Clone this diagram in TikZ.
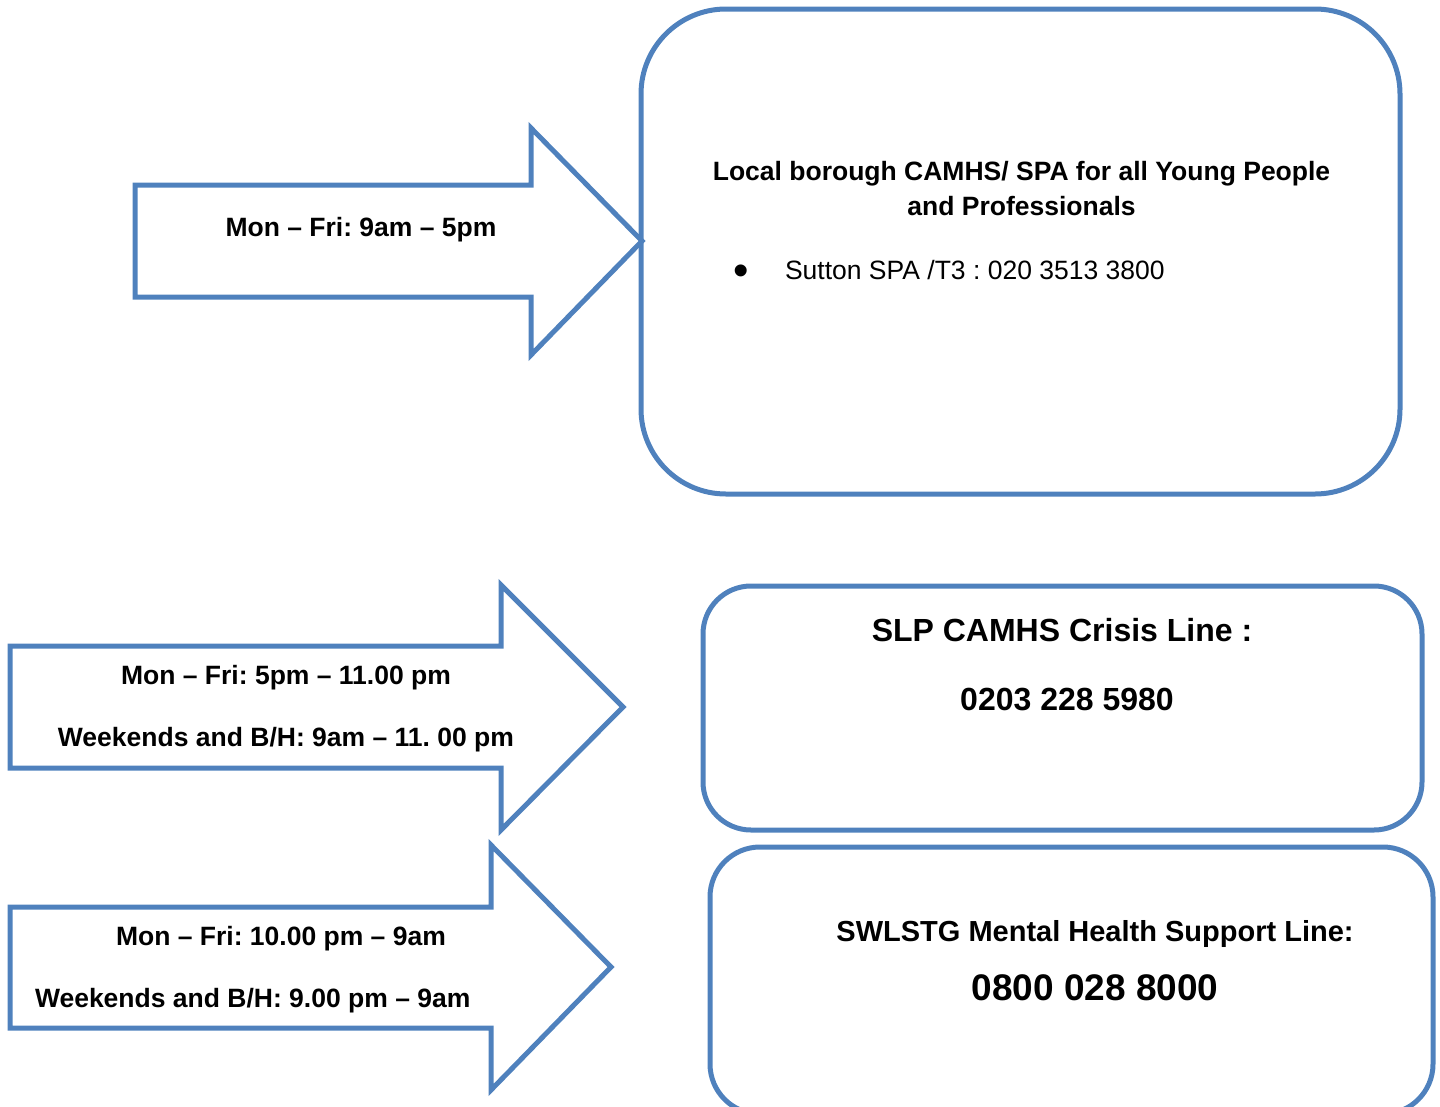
\documentclass[tikz,border=0pt]{standalone}
\usepackage{fontspec}
\setmainfont{Liberation Sans}
\definecolor{officeblue}{RGB}{79,129,189}
\frenchspacing
\begin{document}
\begin{tikzpicture}[x=1pt,y=-1pt,
  shapeline/.style={draw=officeblue,line width=5pt,line join=miter},
  txt/.style={inner sep=0pt,outer sep=0pt,font=\fontsize{26.5}{30}\selectfont\bfseries},
  plain/.style={inner sep=0pt,outer sep=0pt,font=\fontsize{26.5}{30}\selectfont}]
\useasboundingbox (0,0) rectangle (1440,1106);
\begin{scope}
\clip (0,0) rectangle (1440,1106);
% arrows
\draw[shapeline] (135,185) -- (531,185) -- (531,128) -- (642,241) -- (531,355) -- (531,297) -- (135,297) -- cycle;
\draw[shapeline] (10,646) -- (501,646) -- (501,585) -- (623,707) -- (501,830) -- (501,768) -- (10,768) -- cycle;
\draw[shapeline] (10,907) -- (491,907) -- (491,845) -- (611,967) -- (491,1090) -- (491,1028) -- (10,1028) -- cycle;
% boxes
\draw[shapeline,rounded corners=85pt] (641,9) rectangle (1400,494);
\draw[shapeline,rounded corners=48pt] (703,586) rectangle (1422,830);
\draw[shapeline,rounded corners=50pt] (710,847) rectangle (1433,1114);
\end{scope}
% texts
\node[txt,anchor=base] (a1) at (361,236.5) {Mon – Fri: 9am – 5pm};
\node[txt,anchor=base] (b1l1) at (1021.5,180.5) {Local borough CAMHS/ SPA for all Young People};
\node[txt,anchor=base] (b1l2) at (1021.5,215.5) {and Professionals};
\node[plain,anchor=center,font=\fontsize{44}{48}\selectfont] (bul) at (741,275) {\textbullet};
\node[plain,anchor=base west] (b1l3) at (785,279.5) {Sutton SPA /T3 : 020 3513 3800};
\node[txt,anchor=base] (a2l1) at (286,684.5) {Mon – Fri: 5pm – 11.00 pm};
\node[txt,anchor=base] (a2l2) at (286,746.5) {Weekends and B/H: 9am – 11. 00 pm};
\node[txt,anchor=base west] (a3l1) at (116,945.5) {Mon – Fri: 10.00 pm – 9am};
\node[txt,anchor=base west] (a3l2) at (35,1007.5) {Weekends and B/H: 9.00 pm – 9am};
\node[txt,anchor=base,font=\fontsize{32}{36}\selectfont\bfseries] (b2l1) at (1062,641.5) {SLP CAMHS Crisis Line :};
\node[txt,anchor=base,font=\fontsize{32}{36}\selectfont\bfseries] (b2l2) at (1067,710.5) {0203 228 5980};
\node[txt,anchor=base,font=\fontsize{29}{33}\selectfont\bfseries] (b3l1) at (1095,941.4) {SWLSTG Mental Health Support Line:};
\node[txt,anchor=base,font=\fontsize{37}{41}\selectfont\bfseries] (b3l2) at (1095,1000) {0800 028 8000};
\end{tikzpicture}
\end{document}
